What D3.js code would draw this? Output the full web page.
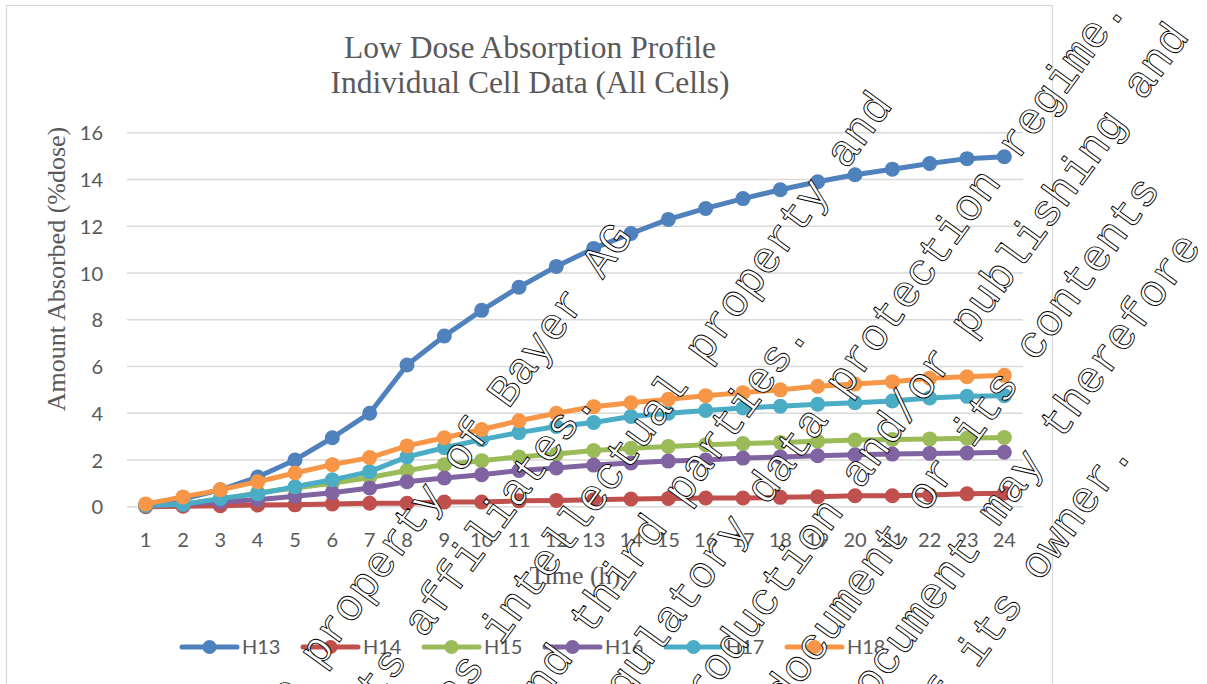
<!DOCTYPE html>
<html>
<head>
<meta charset="utf-8">
<script src="https://cdn.jsdelivr.net/npm/d3@7"></script>
<style>
  html, body { margin: 0; padding: 0; background: #fff; }
  svg { display: block; }
</style>
</head>
<body>
<svg id="chart" width="1207" height="684"></svg>
<script>
// Time points (h)
const hours = ["1","2","3","4","5","6","7","8","9","10","11","12","13","14","15","16","17","18","19","20","21","22","23","24"];

// Cumulative amount absorbed (% dose) per diffusion cell
const H13 = [0.05, 0.33, 0.72, 1.27, 2.0, 2.95, 4.0, 6.06, 7.3, 8.4, 9.39, 10.28, 11.05, 11.69, 12.29, 12.76, 13.18, 13.56, 13.9, 14.2, 14.44, 14.68, 14.89, 14.97];
const H14 = [0.0, 0.02, 0.04, 0.07, 0.08, 0.12, 0.15, 0.15, 0.2, 0.2, 0.25, 0.27, 0.3, 0.33, 0.35, 0.37, 0.37, 0.4, 0.43, 0.47, 0.47, 0.5, 0.55, 0.58];
const H15 = [0.05, 0.12, 0.3, 0.6, 0.8, 1.0, 1.25, 1.55, 1.8, 1.97, 2.13, 2.25, 2.4, 2.5, 2.58, 2.65, 2.7, 2.75, 2.8, 2.85, 2.88, 2.9, 2.93, 2.96];
const H16 = [0.05, 0.1, 0.2, 0.3, 0.45, 0.6, 0.8, 1.07, 1.23, 1.37, 1.55, 1.66, 1.78, 1.87, 1.95, 2.0, 2.08, 2.13, 2.18, 2.22, 2.25, 2.28, 2.3, 2.33];
const H17 = [0.05, 0.1, 0.35, 0.55, 0.85, 1.15, 1.5, 2.13, 2.52, 2.87, 3.17, 3.43, 3.6, 3.86, 4.0, 4.12, 4.22, 4.3, 4.38, 4.45, 4.52, 4.65, 4.72, 4.75];
const H18 = [0.12, 0.42, 0.72, 1.07, 1.44, 1.8, 2.1, 2.6, 2.95, 3.3, 3.68, 4.0, 4.28, 4.45, 4.6, 4.75, 4.88, 5.0, 5.15, 5.25, 5.35, 5.5, 5.56, 5.62];

const seriesNames = ["H13", "H14", "H15", "H16", "H17", "H18"];
const seriesValues = [H13, H14, H15, H16, H17, H18];
const seriesColors = ["#4F81BD", "#C0504D", "#9BBB59", "#8064A2", "#4BACC6", "#F79646"];

const yTicks = [0, 2, 4, 6, 8, 10, 12, 14, 16];

const titleLines = ["Low Dose Absorption Profile", "Individual Cell Data (All Cells)"];
const yTitle = "Amount Absorbed (%dose)";
const xTitle = "Time (h)";

// Confidentiality notice overprinted diagonally on the page
const noticeLines = [
  "This document is the property of Bayer AG",
  "and/or any of its affiliates.",
  "It may be subject to rights such as intellectual property and",
  "copyright of the owner and third parties.",
  "Furthermore, this document may fall under a regulatory data protection regime.",
  "Consequently, any publication, distribution, reproduction and/or publishing and",
  "any commercial exploitation and use of this document or its contents",
  "without the permission of the owner of this document may therefore",
  "be prohibited and violate the rights of its owner."
];
// distance of each line's end along the text direction
const noticeEnds = [181, 26, 440, 206, 655, 670, 529, 507, 300];

const svg = d3.select("#chart");

const plotL = 127, plotR = 1023, plotT = 132.7, plotB = 506.7;

// Chart frame
svg.append("rect")
  .attr("x", 6.5).attr("y", 5.5)
  .attr("width", 1046).attr("height", 720)
  .attr("fill", "#fff")
  .attr("stroke", "#d9d9d9").attr("stroke-width", 1.3);

const x = d3.scaleBand().domain(hours).range([plotL, plotR]);
const y = d3.scaleLinear().domain([0, 16]).range([plotB, plotT]);
const cx = h => x(h) + x.bandwidth() / 2;

// Horizontal gridlines
svg.append("g")
  .selectAll("line")
  .data(yTicks)
  .join("line")
  .attr("x1", plotL).attr("x2", plotR)
  .attr("y1", d => y(d)).attr("y2", d => y(d))
  .attr("stroke", "#d9d9d9").attr("stroke-width", 1.5);

// Y axis labels
const yAxis = d3.axisLeft(y).tickValues(yTicks).tickSize(0).tickPadding(0).tickFormat(d3.format("d"));
const yG = svg.append("g").attr("transform", `translate(${103},0)`).call(yAxis);
yG.select(".domain").remove();
yG.selectAll("text")
  .attr("font-family", "Lato, 'Open Sans', sans-serif")
  .attr("font-size", 20)
  .attr("fill", "#595959")
  .attr("dy", "0.36em");

// X axis labels
const xAxis = d3.axisBottom(x).tickSize(0).tickPadding(0);
const xG = svg.append("g").attr("transform", `translate(0,${plotB})`).call(xAxis);
xG.select(".domain").remove();
xG.selectAll("text")
  .attr("font-family", "Lato, 'Open Sans', sans-serif")
  .attr("font-size", 20)
  .attr("fill", "#595959")
  .attr("y", 40)
  .attr("dy", 0);

// Series lines and markers
const line = d3.line().x((d, i) => cx(hours[i])).y(d => y(d));
seriesValues.forEach((vals, s) => {
  const g = svg.append("g");
  g.append("path")
    .datum(vals)
    .attr("d", line)
    .attr("fill", "none")
    .attr("stroke", seriesColors[s])
    .attr("stroke-width", 5)
    .attr("stroke-linejoin", "round")
    .attr("stroke-linecap", "round");
  g.selectAll("circle")
    .data(vals)
    .join("circle")
    .attr("cx", (d, i) => cx(hours[i]))
    .attr("cy", d => y(d))
    .attr("r", 7.5)
    .attr("fill", seriesColors[s]);
});

// Titles
const title = svg.append("text")
  .attr("text-anchor", "middle")
  .attr("font-family", "'Liberation Serif', 'Times New Roman', serif")
  .attr("font-size", 31.5)
  .attr("fill", "#595959");
titleLines.forEach((t, i) => {
  title.append("tspan").attr("x", 530).attr("y", 58 + i * 34.5).text(t);
});

svg.append("text")
  .attr("transform", `translate(65,269) rotate(-90)`)
  .attr("text-anchor", "middle")
  .attr("font-family", "'Liberation Serif', 'Times New Roman', serif")
  .attr("font-size", 26)
  .attr("fill", "#595959")
  .text(yTitle);

svg.append("text")
  .attr("x", (plotL + plotR) / 2)
  .attr("y", 584)
  .attr("text-anchor", "middle")
  .attr("font-family", "'Liberation Serif', 'Times New Roman', serif")
  .attr("font-size", 26)
  .attr("fill", "#595959")
  .text(xTitle);

// Legend
const legend = svg.append("g").attr("transform", "translate(182,647)");
seriesNames.forEach((name, i) => {
  const item = legend.append("g").attr("transform", `translate(${i * 121},0)`);
  item.append("line")
    .attr("x1", 0).attr("x2", 55).attr("y1", 0).attr("y2", 0)
    .attr("stroke", seriesColors[i]).attr("stroke-width", 5)
    .attr("stroke-linecap", "round");
  item.append("circle").attr("cx", 27.5).attr("cy", 0).attr("r", 7)
    .attr("fill", seriesColors[i]);
  item.append("text")
    .attr("x", 60).attr("y", 7)
    .attr("font-family", "Lato, 'Open Sans', sans-serif")
    .attr("font-size", 20)
    .attr("fill", "#595959")
    .text(name);
});

// Diagonal notice, drawn as outlined lettering over the chart
const angle = 54 * Math.PI / 180;
const dir = [Math.cos(angle), -Math.sin(angle)];
const nrm = [Math.sin(angle), Math.cos(angle)];
const firstBase = 652, lineGap = 66.5;
const notice = svg.append("g")
  .attr("font-family", "'Liberation Mono', 'Courier New', monospace")
  .attr("font-size", 44.5)
  .attr("fill", "#fff")
  .attr("stroke", "#000")
  .attr("stroke-width", 0.9)
  .attr("text-anchor", "end");
noticeLines.forEach((t, k) => {
  const b = firstBase + k * lineGap;
  const e = noticeEnds[k];
  const px = e * dir[0] + b * nrm[0];
  const py = e * dir[1] + b * nrm[1];
  notice.append("text")
    .attr("transform", `translate(${px.toFixed(1)},${py.toFixed(1)}) rotate(-54)`)
    .text(t);
});
</script>
</body>
</html>
